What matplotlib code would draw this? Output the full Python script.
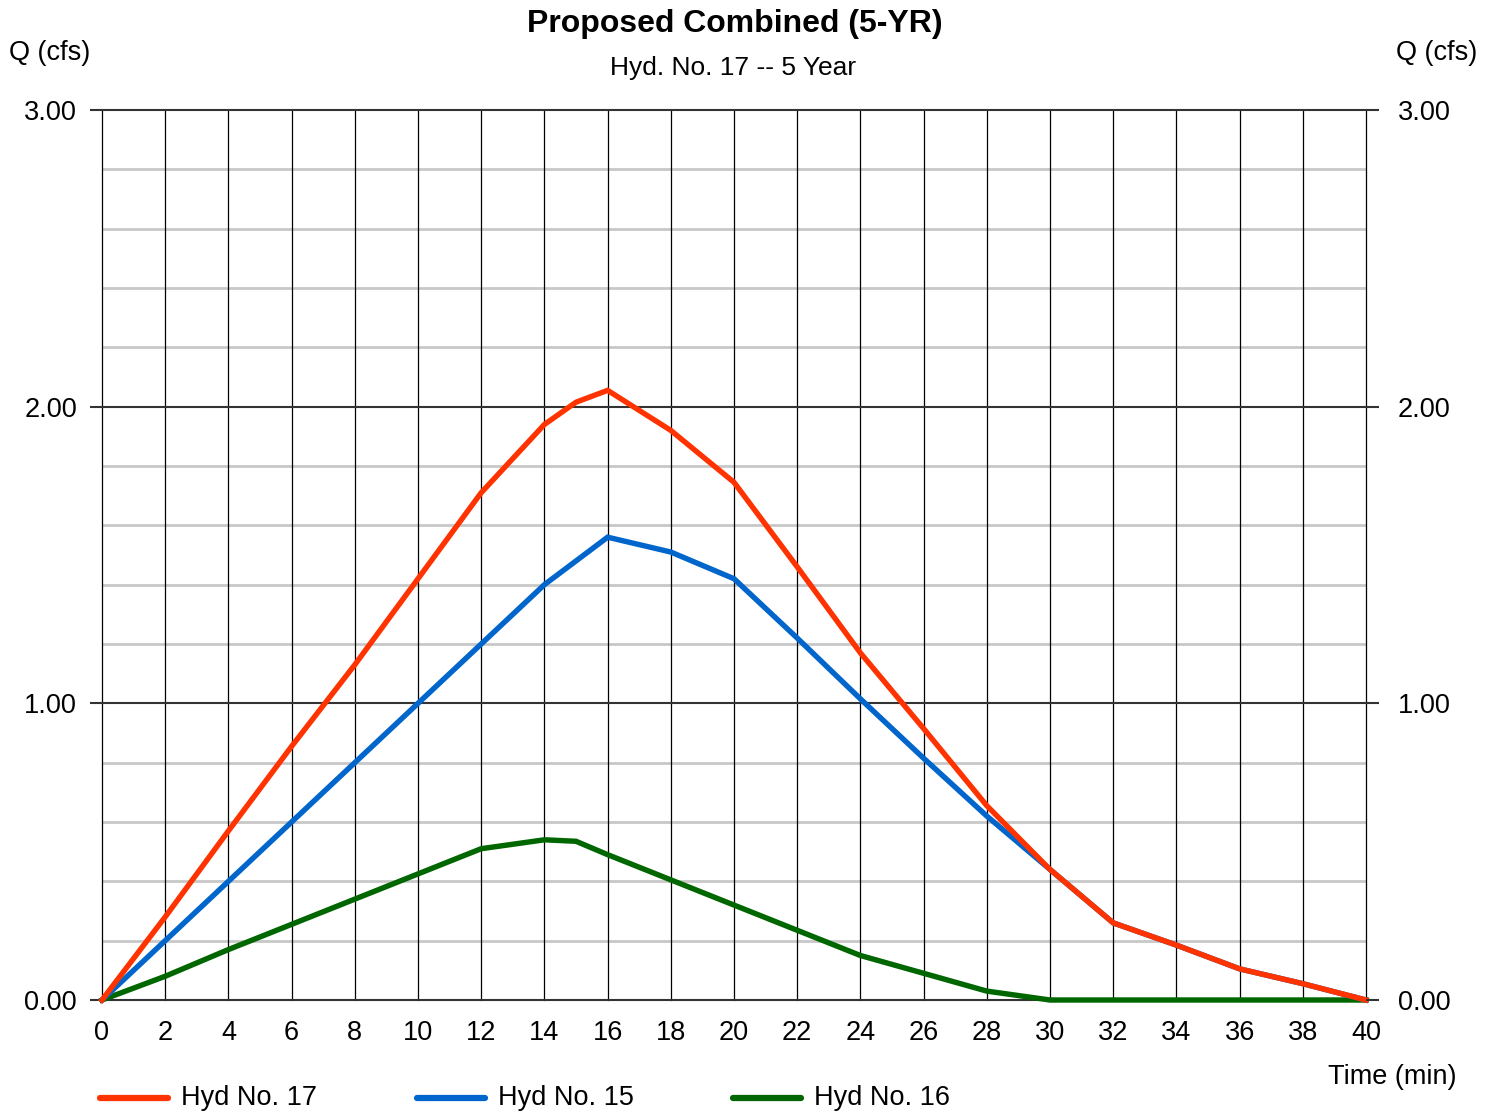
import matplotlib
matplotlib.use("Agg")
import matplotlib.pyplot as plt
from matplotlib.lines import Line2D
import numpy as np

plt.rcParams['font.family'] = ['Liberation Sans', 'DejaVu Sans']

time_min = [0, 2, 4, 6, 8, 10, 12, 14, 15, 16, 18, 20, 22, 24, 26, 28, 30, 32, 34, 36, 38, 40]
hyd17 = [0.00, 0.28, 0.57, 0.855, 1.13, 1.42, 1.71, 1.94, 2.015, 2.055, 1.92, 1.745, 1.46, 1.17, 0.915, 0.655, 0.44, 0.26, 0.185, 0.105, 0.055, 0.00]
hyd15 = [0.00, 0.20, 0.40, 0.60, 0.80, 1.00, 1.20, 1.40, 1.48, 1.56, 1.51, 1.42, 1.22, 1.015, 0.815, 0.62, 0.44, 0.26, 0.185, 0.105, 0.055, 0.00]
hyd16 = [0.00, 0.08, 0.17, 0.255, 0.34, 0.425, 0.51, 0.54, 0.535, 0.49, 0.405, 0.32, 0.235, 0.15, 0.09, 0.03, 0.00, 0.00, 0.00, 0.00, 0.00, 0.00]
series_names = ["Hyd No. 17", "Hyd No. 15", "Hyd No. 16"]
series_colors = ["#FF3300", "#0066CC", "#006600"]
x_ticks = list(range(0, 41, 2))
y_ticks = [0.0, 1.0, 2.0, 3.0]

FS = 19.5
W, H = 1496, 1112
fig = plt.figure(figsize=(W / 100, H / 100), dpi=100)
L, R, B, T = 102, 1366, 1000, 110
ax = fig.add_axes([L / W, 1 - B / H, (R - L) / W, (B - T) / H])

ax.set_xlim(0, 40)
ax.set_ylim(0, 3)

# minor horizontal grid
for yv in np.arange(0.2, 3.0, 0.2):
    if abs(yv - round(yv)) > 1e-6:
        ax.axhline(yv, color="#c8c8c8", lw=2.0, zorder=1)
# vertical grid
for xv in x_ticks:
    ax.axvline(xv, color="black", lw=0.9, zorder=2, clip_on=False)
# major horizontal grid
for yv in y_ticks:
    ax.axhline(yv, color="#333333", lw=1.5, zorder=2, clip_on=False)

for spine in ax.spines.values():
    spine.set_visible(False)

data = [hyd17, hyd15, hyd16]
for i in [2, 1, 0]:
    ax.plot(time_min, data[i], color=series_colors[i], lw=3.9, zorder=5,
            solid_joinstyle='miter', clip_on=False)

ax.set_xticks(x_ticks)
ax.set_xticklabels([str(v) for v in x_ticks])
ax.set_yticks(y_ticks)
ax.set_yticklabels([f"{v:.2f}" for v in y_ticks])
ax.tick_params(axis='x', length=0, pad=14.5, labelsize=FS)
ax.tick_params(axis='y', length=9, width=1.5, color="#333333", pad=9,
               labelsize=FS, left=True, right=False)

ax2 = ax.twinx()
ax2.set_ylim(0, 3)
ax2.set_yticks(y_ticks)
ax2.set_yticklabels([f"{v:.2f}" for v in y_ticks])
ax2.tick_params(axis='y', length=9, width=1.5, color="#333333", pad=14, labelsize=FS)
for spine in ax2.spines.values():
    spine.set_visible(False)

fig.text(735 / W, 1 - 24 / H, "Proposed Combined (5-YR)", ha='center', va='center',
         fontsize=23, fontweight='bold')
fig.text(733 / W, 1 - 68 / H, "Hyd. No. 17 -- 5 Year", ha='center', va='center', fontsize=19)
fig.text(50 / W, 1 - 53 / H, "Q (cfs)", ha='center', va='center', fontsize=FS)
fig.text(1437 / W, 1 - 53 / H, "Q (cfs)", ha='center', va='center', fontsize=FS)
fig.text(1392 / W, 1 - 1077 / H, "Time (min)", ha='center', va='center', fontsize=FS)

# legend
leg_x = [100, 417, 733]
for xs, name, col in zip(leg_x, series_names, series_colors):
    y = 1 - 1098 / H
    fig.add_artist(Line2D([xs / W, (xs + 68) / W], [y, y], color=col, lw=4.5,
                          solid_capstyle='round'))
    fig.text((xs + 81) / W, y, name, ha='left', va='center', fontsize=FS)

fig.savefig("out.png", dpi=100)
